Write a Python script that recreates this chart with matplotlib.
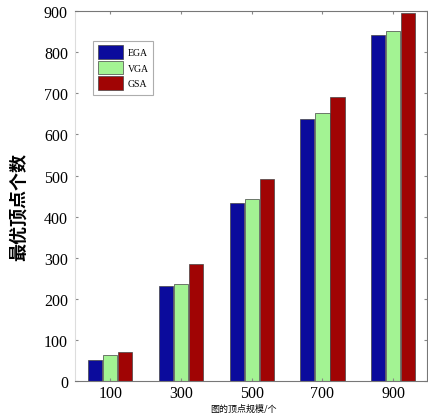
import matplotlib
matplotlib.use("Agg")
import matplotlib.pyplot as plt
import numpy as np

categories = ["100", "300", "500", "700", "900"]
ega = [52, 231, 433, 637, 842]
vga = [63, 236, 443, 652, 852]
gsa = [72, 286, 491, 690, 895]
series_names = ["EGA", "VGA", "GSA"]
colors = ["#0b0b9c", "#a3f393", "#a00404"]
yticks = [0, 100, 200, 300, 400, 500, 600, 700, 800, 900]

fig = plt.figure(figsize=(4.28, 4.14), dpi=100)
ax = fig.add_axes([0.175, 0.077, 0.823, 0.894])

x = np.arange(len(categories))
w = 0.2
step = 0.213
for i, (vals, name, c) in enumerate(zip([ega, vga, gsa], series_names, colors)):
    ax.bar(x + (i - 1) * step, vals, width=w, color=c, edgecolor="#444444",
           linewidth=0.5, label=name)

ax.set_xlim(-0.5, 4.48)
ax.set_ylim(0, 900)
ax.set_xticks(x)
ax.set_xticklabels(categories, fontfamily="Liberation Serif", fontsize=11.5)
ax.set_yticks(yticks)
ax.set_yticklabels([str(t) for t in yticks], fontfamily="Liberation Serif", fontsize=11.5)
ax.tick_params(direction="in", length=2, top=True, right=True, color="#888888")
ax.tick_params(axis="y", pad=5)
ax.tick_params(axis="x", pad=3)
for s in ax.spines.values():
    s.set_color("#777777")
    s.set_linewidth(0.8)
ax.spines["left"].set_color("#dddddd")

leg = ax.legend(loc="upper left", bbox_to_anchor=(0.038, 0.933), prop={"family": "Liberation Serif", "size": 7},
                frameon=True, fancybox=False, edgecolor="#999999", handlelength=2.6, handleheight=1.8,
                borderpad=0.45, labelspacing=0.2, handletextpad=0.5)
leg.get_frame().set_linewidth(0.8)

fig.text(0.042, 0.5, "最优顶点个数", rotation=90, ha="center", va="center",
         fontsize=13, fontweight="bold", family=["Noto Sans CJK SC", "DejaVu Sans"])
fig.text(0.57, 0.0, "图的顶点规模/个", ha="center", va="bottom",
         fontsize=6.5, family=["Noto Sans CJK SC", "DejaVu Sans"])

fig.savefig("out.png", dpi=100)
